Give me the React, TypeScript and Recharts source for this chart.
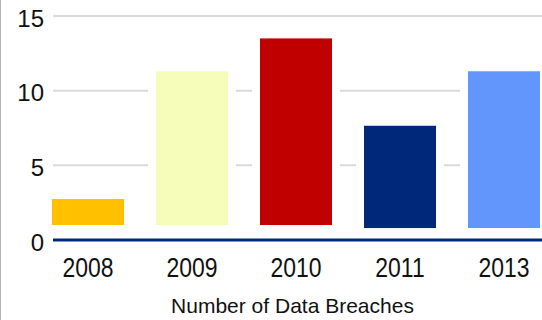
import React from 'react';
import { BarChart, Bar, XAxis, YAxis, CartesianGrid, Cell, Label } from 'recharts';

const years = ['2008', '2009', '2010', '2011', '2013'];
const barStart = [1, 1, 1, 0.8, 0.8];
const barEnd = [2.75, 11.3, 13.5, 7.65, 11.3];
const barColors = ['#ffc000', '#f6fcb9', '#c00000', '#00287a', '#6396fd'];
const yTicks = [0, 5, 10, 15];

const data = years.map((year, i) => ({ year, range: [barStart[i], barEnd[i]] }));

// bars sit on a white halo that cuts the gridlines around them
const HaloBar = (props: any) => {
  const { x, y, width, height, fill } = props;
  const top = Math.min(y, y + height);
  const h = Math.abs(height);
  return (
    <g>
      <rect x={x - 8} y={top - 8} width={width + 16} height={h + 16} fill="#fff" />
      <rect x={x} y={top} width={width} height={h} fill={fill} />
    </g>
  );
};

// year labels are narrow and tall in the original
const YearTick = (props: any) => {
  const { x, y, payload } = props;
  return (
    <g transform={`translate(${x},${y + 37}) scale(0.82,1)`}>
      <text
        x={0}
        y={0}
        textAnchor="middle"
        fill="#111"
        fontSize={28}
        fontFamily="Liberation Sans, Arial, sans-serif"
      >
        {payload.value}
      </text>
    </g>
  );
};

export default function App() {
  return (
    <div
      style={{
        position: 'absolute',
        left: 0,
        top: 0,
        width: 542,
        height: 320,
        overflow: 'hidden',
        background: '#fff',
        borderLeft: '1px solid #b4b4b4',
        boxSizing: 'border-box',
      }}
    >
      <div style={{ position: 'absolute', left: -1, top: 0 }}>
        <BarChart
          width={542}
          height={320}
          data={data}
          margin={{ top: 16, right: 0, bottom: 0, left: 0 }}
        >
          <CartesianGrid vertical={false} stroke="#dadada" strokeWidth={2} />
          <YAxis
            width={53}
            domain={[0, 15]}
            ticks={yTicks}
            axisLine={false}
            tickLine={false}
            tickSize={0}
            tickMargin={9}
            tick={{ fill: '#111', fontSize: 24, fontFamily: 'Liberation Sans, Arial, sans-serif', dy: 2 }}
          />
          <XAxis
            dataKey="year"
            height={80}
            padding={{ left: -17, right: -14 }}
            axisLine={{ stroke: '#00287a', strokeWidth: 3 }}
            tickLine={false}
            tickSize={0}
            tickMargin={0}
            tick={<YearTick />}
          >
            <Label
              value="Number of Data Breaches"
              position="insideBottom"
              offset={7}
              dx={-5}
              style={{ fill: '#111', fontSize: 21, fontFamily: 'Liberation Sans, Arial, sans-serif' }}
            />
          </XAxis>
          <Bar dataKey="range" barSize={72} shape={<HaloBar />} isAnimationActive={false}>
            {data.map((d, i) => (
              <Cell key={d.year} fill={barColors[i]} />
            ))}
          </Bar>
        </BarChart>
      </div>
    </div>
  );
}
